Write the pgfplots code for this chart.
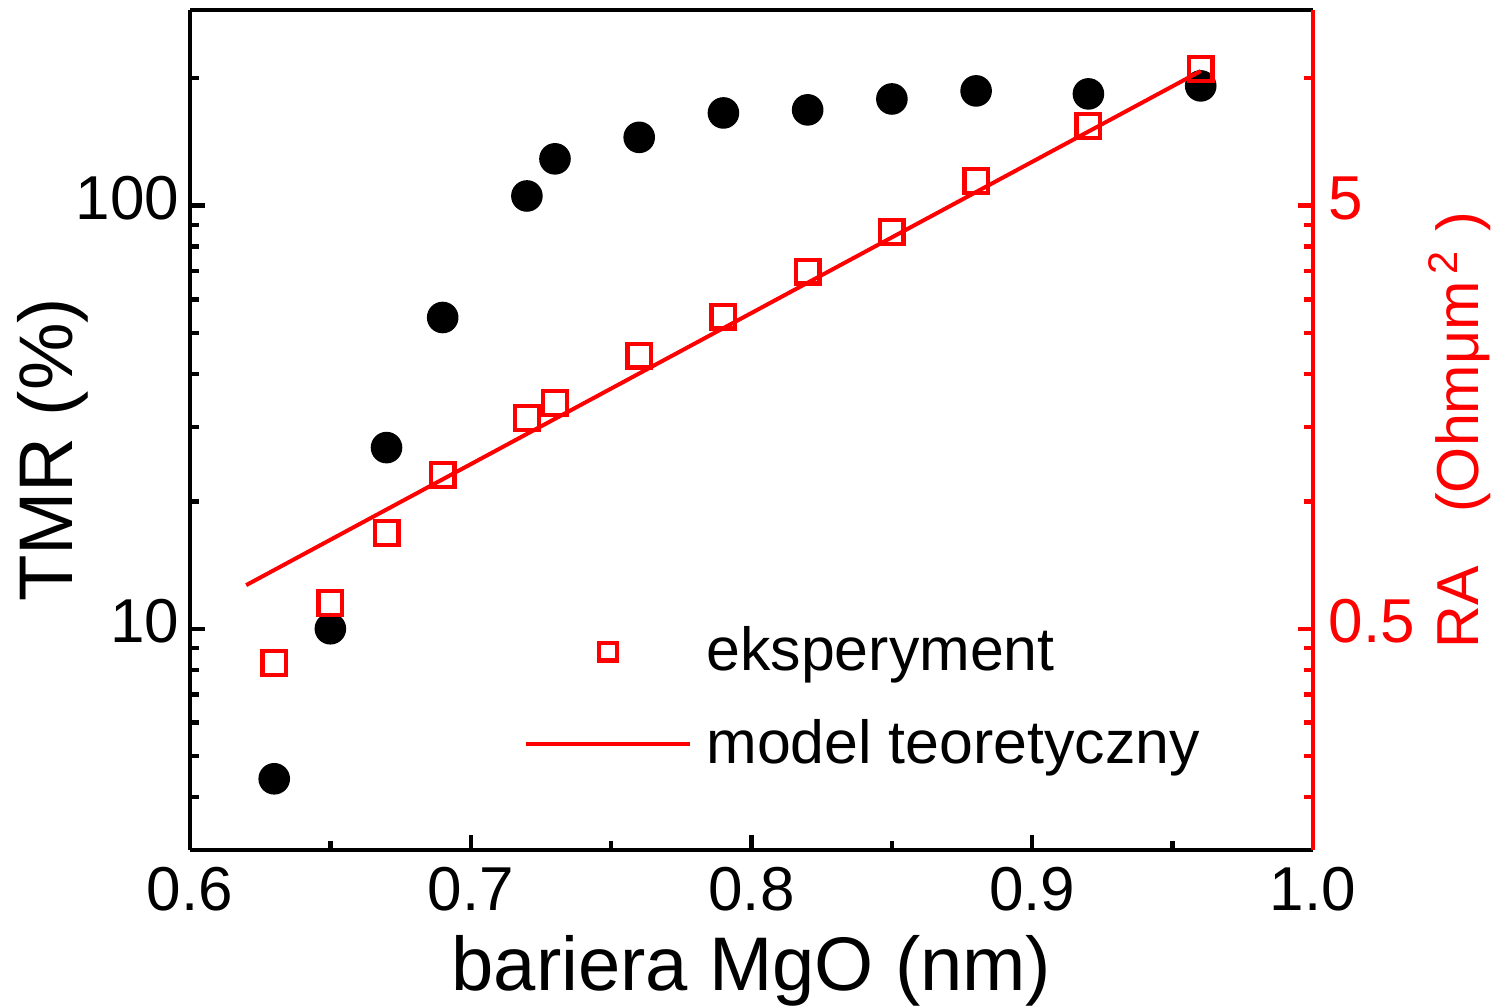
\documentclass[border=0pt]{standalone}
\usepackage{fontspec}
\setmainfont{Liberation Sans}
\usepackage{pgfplots}
\pgfplotsset{compat=1.18}

\definecolor{rared}{RGB}{255,0,0}

% legend pictures: a single centred mark, and a long line
\pgfplotsset{
  single mark legend/.style={legend image code/.code={\draw[##1, mark size=2.2pt] plot coordinates {(20.4pt,0pt)};}},
  long line legend/.style={legend image code/.code={\draw[##1] (0pt,0pt) -- (40.8pt,0pt);}},
}

\begin{document}
\begin{tikzpicture}
\path[use as bounding box] (-47.5pt,-39pt) rectangle (326.25pt,212.5pt);

% TMR on the left logarithmic axis
\begin{axis}[
  width=280.75pt, height=210pt, scale only axis,
  xmin=0.6, xmax=1.0,
  ymode=log, ymin=3, ymax=290,
  axis y line*=left, axis x line*=box,
  xtick pos=bottom, ytick pos=left,
  axis line style={line width=1.1pt, black},
  every tick/.style={line width=1.1pt, black},
  tick align=inside,
  major tick length=3.75pt, minor tick length=2.25pt,
  xtick={0.6,0.7,0.8,0.9,1.0},
  minor xtick={0.65,0.75,0.85,0.95},
  xticklabels={0.6,0.7,0.8,0.9,1.0},
  ytick={10,100}, yticklabels={10,100},
  minor ytick={4,5,6,7,8,9,20,30,40,50,60,70,80,90,200},
  ticklabel style={font=\fontsize{15.5}{18}\selectfont, inner sep=0pt},
  xticklabel style={anchor=base, yshift=-15pt},
  yticklabel style={anchor=base east, xshift=-2.5pt, yshift=-3.4pt},
  label style={font=\fontsize{19}{22}\selectfont, inner sep=0pt},
  xlabel={bariera MgO (nm)},
  xlabel style={at={([yshift=-35pt]axis description cs:0.5,0)}, anchor=base},
  ylabel={TMR (\%)},
  ylabel style={at={([xshift=-29.25pt,yshift=-5pt]axis description cs:0,0.5)}, anchor=base, rotate=0},
]
\addplot[only marks, mark=*, mark size=3.75pt, black, mark options={fill=black, draw=black}]
  coordinates {
  (0.63,4.42) (0.65,10.0) (0.67,26.8) (0.69,54.4) (0.72,105.4) (0.73,129)
  (0.76,145) (0.79,165.6) (0.82,168.4) (0.85,178.7) (0.88,186.7) (0.92,183.7)
  (0.96,191.9)
  };
\end{axis}

% RA on the right logarithmic axis
\begin{axis}[
  width=280.75pt, height=210pt, scale only axis,
  xmin=0.6, xmax=1.0,
  ymode=log, ymin=0.15, ymax=14.5,
  axis x line=none,
  axis y line*=right,
  y axis line style={line width=1.1pt, rared},
  every tick/.style={line width=1.1pt, rared},
  tick align=inside,
  major tick length=3.75pt, minor tick length=2.25pt,
  ytick={0.5,5}, yticklabels={0.5,5},
  minor ytick={0.2,0.25,0.3,0.35,0.4,0.45,1,1.5,2,2.5,3,3.5,4,4.5,10},
  yticklabel style={font=\fontsize{15.5}{18}\selectfont, inner sep=0pt, text=rared,
    anchor=base west, xshift=3.75pt, yshift=-3.4pt},
  ylabel={RA\hspace{0.9em}(Ohmμm\textsuperscript{\,2}\hspace{0.3em})},
  ylabel style={font=\fontsize{14.8}{18}\selectfont, inner sep=0pt, text=rared,
    at={([xshift=41.25pt]axis description cs:1,0.5)}, anchor=base, rotate=0},
  legend style={draw=none, fill=none, inner sep=0pt,
    at={(axis description cs:0.297,0.281)}, anchor=north west,
    font=\fontsize{15.2}{18}\selectfont,
    nodes={inner xsep=2.5pt, inner ysep=3pt}, row sep=4.6pt, column sep=1.25pt},
  legend cell align=left,
]
\addplot[only marks, mark=square, mark size=2.95pt, rared,
  mark options={line width=1.1pt, fill=none}, single mark legend]
  coordinates {
  (0.63,0.415) (0.65,0.575) (0.67,0.842) (0.69,1.154) (0.72,1.574) (0.73,1.709)
  (0.76,2.21) (0.79,2.73) (0.82,3.49) (0.85,4.33) (0.88,5.72) (0.92,7.71)
  (0.96,10.52)
  };
\addlegendentry{eksperyment}
\addplot[no marks, rared, line width=1pt, long line legend]
  coordinates {(0.62,0.634) (0.96,10.4)};
\addlegendentry{model teoretyczny}
\end{axis}
\end{tikzpicture}
\end{document}
